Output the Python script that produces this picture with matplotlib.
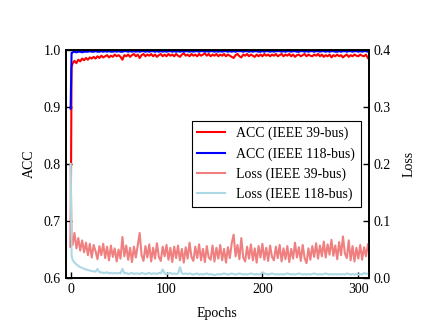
import matplotlib
matplotlib.use("Agg")
import matplotlib.pyplot as plt

plt.rcParams['font.family'] = ['Liberation Serif', 'DejaVu Serif']
plt.rcParams['font.size'] = 10

epochs = [0, 1] + list(range(2, 311, 2))

acc_39 = [
    0.655, 0.970, 0.976, 0.981, 0.977, 0.983, 0.980, 0.985, 0.982, 0.986,
    0.983, 0.987, 0.985, 0.988, 0.985, 0.989, 0.986, 0.990, 0.987, 0.989,
    0.991, 0.987, 0.990, 0.988, 0.992, 0.989, 0.991, 0.988, 0.983, 0.991,
    0.989, 0.992, 0.988, 0.991, 0.993, 0.989, 0.992, 0.986, 0.991, 0.993,
    0.989, 0.992, 0.990, 0.993, 0.989, 0.992, 0.988, 0.991, 0.993, 0.989,
    0.992, 0.989, 0.993, 0.990, 0.992, 0.989, 0.993, 0.990, 0.988, 0.992,
    0.994, 0.990, 0.992, 0.989, 0.993, 0.990, 0.992, 0.989, 0.993, 0.990,
    0.992, 0.994, 0.990, 0.993, 0.989, 0.992, 0.990, 0.993, 0.989, 0.992,
    0.990, 0.993, 0.989, 0.992, 0.990, 0.988, 0.986, 0.991, 0.993, 0.989,
    0.987, 0.992, 0.990, 0.993, 0.989, 0.992, 0.990, 0.988, 0.992, 0.989,
    0.992, 0.989, 0.993, 0.990, 0.992, 0.989, 0.992, 0.990, 0.993, 0.989,
    0.991, 0.993, 0.989, 0.992, 0.990, 0.993, 0.989, 0.992, 0.988, 0.991,
    0.992, 0.989, 0.991, 0.993, 0.989, 0.992, 0.990, 0.989, 0.992, 0.990,
    0.993, 0.989, 0.992, 0.988, 0.991, 0.989, 0.992, 0.987, 0.991, 0.989,
    0.992, 0.989, 0.991, 0.987, 0.990, 0.992, 0.988, 0.991, 0.989, 0.992,
    0.990, 0.989, 0.992, 0.990, 0.989, 0.992, 0.986,
]

acc_118 = [
    0.897, 0.995, 0.996, 0.997, 0.996, 0.997, 0.997, 0.996, 0.997, 0.997,
    0.997, 0.998, 0.997, 0.997, 0.998, 0.997, 0.997, 0.998, 0.997, 0.998,
    0.997, 0.998, 0.997, 0.997, 0.998, 0.997, 0.998, 0.997, 0.997, 0.998,
    0.998, 0.997, 0.998, 0.997, 0.998, 0.997, 0.998, 0.997, 0.998, 0.998,
    0.997, 0.998, 0.997, 0.998, 0.998, 0.997, 0.998, 0.997, 0.998, 0.997,
    0.998, 0.997, 0.998, 0.998, 0.997, 0.998, 0.997, 0.998, 0.997, 0.998,
    0.997, 0.998, 0.998, 0.997, 0.998, 0.997, 0.998, 0.998, 0.997, 0.998,
    0.998, 0.997, 0.998, 0.997, 0.998, 0.998, 0.997, 0.998, 0.997, 0.998,
    0.997, 0.998, 0.998, 0.997, 0.998, 0.997, 0.998, 0.997, 0.998, 0.998,
    0.998, 0.997, 0.998, 0.998, 0.997, 0.998, 0.997, 0.998, 0.998, 0.997,
    0.997, 0.998, 0.997, 0.998, 0.998, 0.997, 0.998, 0.997, 0.998, 0.998,
    0.998, 0.997, 0.998, 0.997, 0.998, 0.998, 0.997, 0.998, 0.998, 0.997,
    0.997, 0.998, 0.998, 0.997, 0.998, 0.997, 0.998, 0.998, 0.997, 0.998,
    0.998, 0.997, 0.998, 0.998, 0.997, 0.998, 0.997, 0.998, 0.998, 0.997,
    0.997, 0.998, 0.997, 0.998, 0.998, 0.997, 0.998, 0.998, 0.997, 0.998,
    0.998, 0.997, 0.998, 0.997, 0.998, 0.998, 0.997,
]

loss_39 = [
    0.200, 0.072, 0.058, 0.079, 0.052, 0.070, 0.048, 0.066, 0.045, 0.062,
    0.040, 0.060, 0.036, 0.058, 0.047, 0.033, 0.056, 0.040, 0.060, 0.035,
    0.055, 0.031, 0.057, 0.037, 0.052, 0.029, 0.050, 0.034, 0.072, 0.038,
    0.057, 0.032, 0.053, 0.028, 0.055, 0.036, 0.058, 0.079, 0.040, 0.030,
    0.056, 0.036, 0.059, 0.029, 0.053, 0.034, 0.061, 0.037, 0.030, 0.055,
    0.038, 0.058, 0.032, 0.053, 0.028, 0.055, 0.035, 0.057, 0.031, 0.051,
    0.027, 0.054, 0.034, 0.062, 0.037, 0.030, 0.055, 0.035, 0.059, 0.031,
    0.051, 0.028, 0.056, 0.036, 0.032, 0.057, 0.029, 0.053, 0.034, 0.058,
    0.031, 0.051, 0.027, 0.054, 0.035, 0.061, 0.076, 0.038, 0.058, 0.033,
    0.070, 0.036, 0.029, 0.055, 0.034, 0.059, 0.031, 0.052, 0.027, 0.056,
    0.036, 0.060, 0.032, 0.053, 0.030, 0.057, 0.037, 0.031, 0.055, 0.035,
    0.058, 0.029, 0.052, 0.033, 0.056, 0.028, 0.051, 0.034, 0.062, 0.036,
    0.054, 0.030, 0.058, 0.035, 0.026, 0.052, 0.032, 0.056, 0.037, 0.061,
    0.034, 0.057, 0.038, 0.064, 0.036, 0.059, 0.041, 0.067, 0.039, 0.057,
    0.033, 0.063, 0.040, 0.073, 0.043, 0.035, 0.066, 0.031, 0.056, 0.029,
    0.053, 0.034, 0.058, 0.032, 0.054, 0.038, 0.059,
]

loss_118 = [
    0.200, 0.040, 0.032, 0.027, 0.024, 0.021, 0.019, 0.018, 0.016, 0.015,
    0.014, 0.013, 0.012, 0.012, 0.011, 0.016, 0.010, 0.010, 0.009, 0.009,
    0.010, 0.008, 0.009, 0.008, 0.009, 0.008, 0.009, 0.008, 0.016, 0.008,
    0.009, 0.007, 0.008, 0.009, 0.007, 0.008, 0.008, 0.007, 0.009, 0.008,
    0.007, 0.008, 0.009, 0.007, 0.008, 0.008, 0.007, 0.009, 0.008, 0.015,
    0.008, 0.007, 0.008, 0.009, 0.007, 0.008, 0.007, 0.008, 0.019, 0.008,
    0.007, 0.008, 0.007, 0.008, 0.007, 0.006, 0.007, 0.008, 0.006, 0.007,
    0.006, 0.007, 0.008, 0.006, 0.007, 0.006, 0.005, 0.006, 0.007, 0.006,
    0.007, 0.008, 0.007, 0.006, 0.007, 0.008, 0.007, 0.006, 0.007, 0.008,
    0.007, 0.006, 0.007, 0.006, 0.007, 0.008, 0.007, 0.006, 0.007, 0.006,
    0.007, 0.010, 0.008, 0.007, 0.006, 0.007, 0.008, 0.007, 0.006, 0.007,
    0.006, 0.007, 0.006, 0.007, 0.008, 0.007, 0.006, 0.007, 0.006, 0.007,
    0.008, 0.007, 0.006, 0.007, 0.006, 0.007, 0.006, 0.007, 0.008, 0.007,
    0.006, 0.007, 0.006, 0.007, 0.008, 0.007, 0.006, 0.007, 0.006, 0.007,
    0.006, 0.007, 0.006, 0.007, 0.006, 0.008, 0.007, 0.006, 0.007, 0.006,
    0.007, 0.006, 0.007, 0.006, 0.009, 0.007, 0.008,
]

labels = ["ACC (IEEE 39-bus)", "ACC (IEEE 118-bus)",
          "Loss (IEEE 39-bus)", "Loss (IEEE 118-bus)"]
colors = ["red", "blue", "lightcoral", "lightblue"]

fig = plt.figure(figsize=(4.36, 3.29), dpi=100)
ax = fig.add_axes([0.151, 0.155, 0.695, 0.693])
ax2 = ax.twinx()

l1, = ax.plot(epochs, acc_39, color=colors[0], lw=1.5, label=labels[0])
l2, = ax.plot(epochs, acc_118, color=colors[1], lw=1.5, label=labels[1])
l3, = ax2.plot(epochs, loss_39, color=colors[2], lw=1.5, label=labels[2])
l4, = ax2.plot(epochs, loss_118, color=colors[3], lw=1.5, label=labels[3])

ax.set_xlim(-5, 311)
ax.set_ylim(0.6, 1.0)
ax2.set_ylim(0.0, 0.4)
ax.set_xticks([0, 100, 200, 300])
ax.set_yticks([0.6, 0.7, 0.8, 0.9, 1.0])
ax2.set_yticks([0.0, 0.1, 0.2, 0.3, 0.4])
ax.set_yticklabels(["0.6", "0.7", "0.8", "0.9", "1.0"])
ax2.set_yticklabels(["0.0", "0.1", "0.2", "0.3", "0.4"])

ax.tick_params(direction='in', length=4, width=1, labelsize=10)
ax2.tick_params(direction='in', length=4, width=1, labelsize=10)

for a in (ax, ax2):
    for s in a.spines.values():
        s.set_linewidth(1.2)

ax.set_xlabel("Epochs", fontsize=10, labelpad=8)
ax.set_ylabel("ACC", fontsize=10, labelpad=5.5)
ax2.set_ylabel("Loss", fontsize=10, labelpad=8.5)

leg = ax2.legend([l1, l2, l3, l4], labels, loc='center right',
                 fancybox=False, framealpha=1, edgecolor='black',
                 fontsize=10, borderaxespad=0.6)
leg.get_frame().set_linewidth(0.8)

fig.savefig("out.png", dpi=100)
